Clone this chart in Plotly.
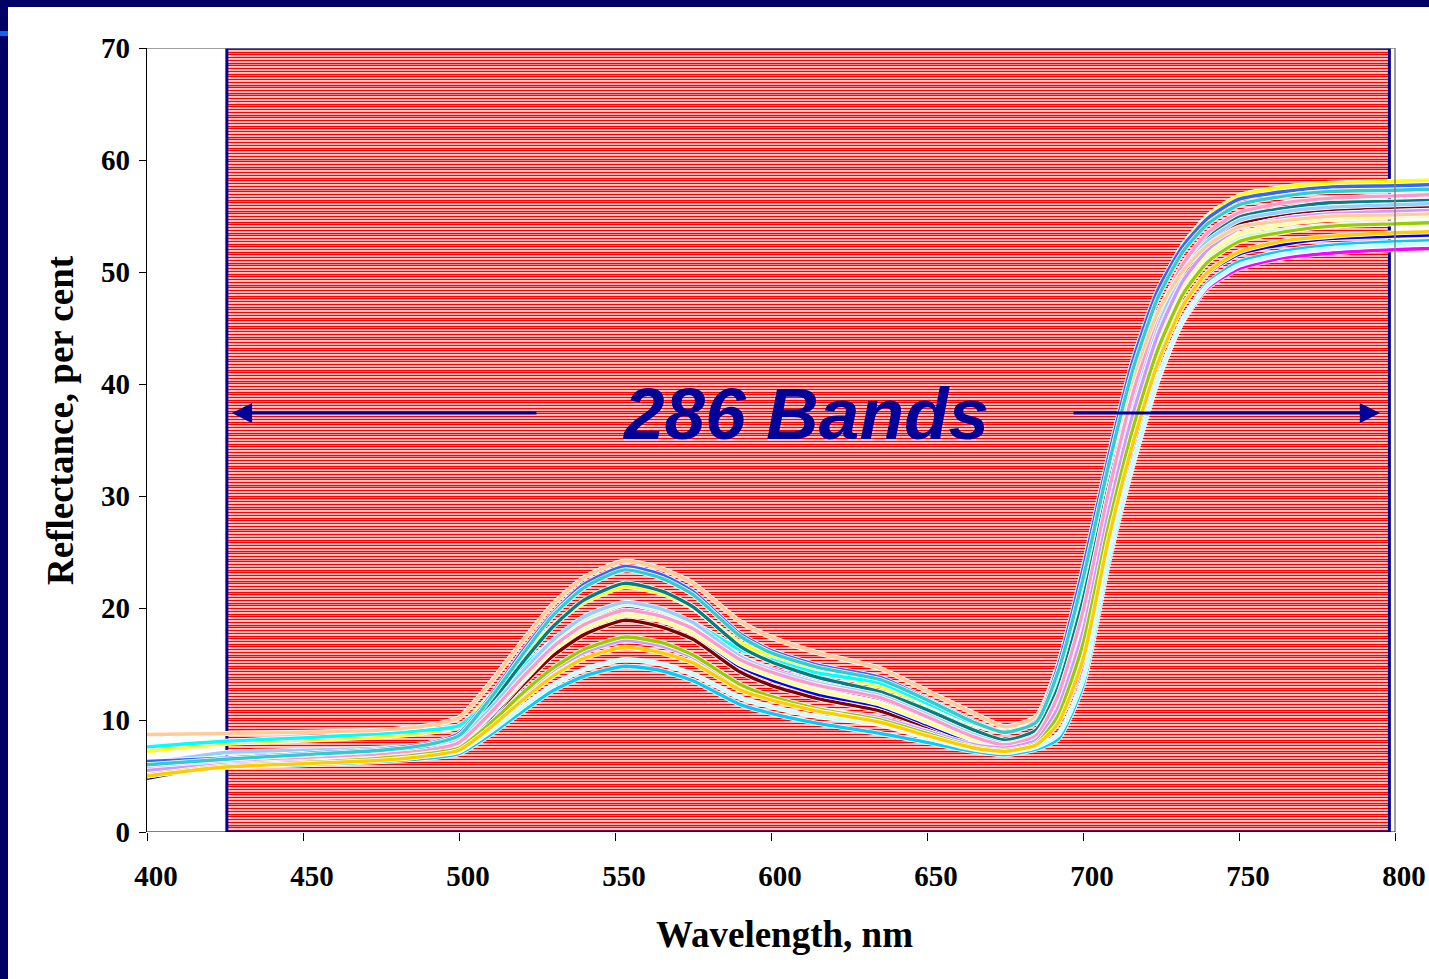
import plotly.graph_objects as go

# ---------------- data ----------------
wavelengths = [400, 425, 450, 475, 490, 500, 510, 520, 530, 540, 553, 565, 575, 590, 600, 615,
               635, 650, 665, 675, 685, 692, 700, 708, 716, 724, 732, 740, 750, 765, 780, 800, 812]

navy = [4.8, 6.0, 6.3, 6.6, 7.0, 7.6, 10.2, 13.4, 16.2, 18.3, 19.6, 19.0, 17.8, 14.9, 13.7, 12.4, 11.2, 9.6, 8.1, 7.6, 8.3, 11.2, 18.0, 28.4, 37.4, 44.5, 49.3, 52.1, 54.0, 54.9, 55.3, 55.5, 55.6]
magenta = [5.0, 6.0, 6.3, 6.7, 7.1, 7.8, 10.5, 13.7, 16.7, 18.7, 20.1, 19.55, 18.45, 15.7, 14.6, 13.4, 12.4, 10.7, 8.8, 7.9, 8.4, 9.8, 15.0, 25.1, 33.6, 40.6, 45.6, 48.6, 50.3, 51.3, 51.7, 52.0, 52.1]
yellow = [7.2, 7.9, 8.2, 8.5, 8.9, 9.4, 12.2, 15.4, 18.4, 20.5, 21.9, 21.3, 20.0, 16.9, 15.7, 14.3, 13.0, 11.4, 9.6, 8.9, 9.8, 14.2, 22.4, 32.6, 41.5, 48.2, 52.4, 55.0, 56.8, 57.6, 57.95, 58.1, 58.2]
turquoise = [7.6, 8.1, 8.4, 8.8, 9.1, 9.5, 11.8, 14.6, 17.1, 18.9, 20.1, 19.6, 18.7, 16.3, 15.4, 14.2, 13.3, 11.5, 9.7, 9.0, 9.8, 13.8, 21.4, 31.1, 39.6, 46.0, 50.1, 52.6, 54.3, 55.1, 55.5, 55.6, 55.7]
purple = [5.6, 6.1, 6.4, 6.7, 7.1, 7.8, 10.5, 13.7, 16.6, 18.7, 20.0, 19.4, 18.3, 15.4, 14.2, 13.0, 11.9, 10.2, 8.4, 7.7, 8.5, 11.8, 19.0, 29.3, 38.3, 45.2, 49.8, 52.6, 54.4, 55.3, 55.7, 55.9, 56.0]
dark_red = [5.8, 6.1, 6.3, 6.6, 7.0, 7.5, 10.0, 13.0, 15.7, 17.6, 18.9, 18.3, 17.2, 14.3, 13.1, 11.9, 10.8, 9.4, 8.0, 7.4, 8.2, 11.3, 18.3, 28.8, 37.8, 44.9, 49.6, 52.5, 54.3, 55.2, 55.6, 55.8, 55.9]
teal = [5.7, 6.3, 6.7, 7.1, 7.6, 8.3, 11.4, 15.0, 18.3, 20.7, 22.2, 21.5, 20.1, 16.6, 15.2, 13.8, 12.5, 10.9, 9.1, 8.2, 9.1, 12.9, 20.7, 30.7, 39.5, 46.2, 50.5, 53.2, 54.9, 55.7, 56.2, 56.3, 56.4]
blue = [5.4, 6.0, 6.3, 6.6, 7.0, 7.6, 10.2, 13.3, 16.2, 18.2, 19.5, 18.9, 17.7, 14.8, 13.6, 12.3, 11.2, 9.6, 8.0, 7.5, 8.1, 10.3, 16.3, 26.5, 35.1, 42.1, 47.0, 49.9, 51.6, 52.5, 53.0, 53.2, 53.3]
sky_blue = [5.3, 5.8, 6.0, 6.3, 6.6, 7.0, 8.7, 10.7, 12.6, 13.9, 14.8, 14.4, 13.5, 11.4, 10.6, 9.7, 8.8, 8.0, 7.2, 6.9, 7.4, 8.3, 13.1, 23.8, 32.8, 40.3, 45.8, 49.0, 50.9, 51.9, 52.4, 52.7, 52.8]
light_turquoise = [5.5, 6.0, 6.2, 6.5, 6.8, 7.2, 9.0, 11.1, 13.1, 14.5, 15.4, 15.0, 14.1, 12.0, 11.2, 10.3, 9.6, 8.4, 7.4, 7.1, 7.6, 8.7, 13.6, 24.2, 33.0, 40.4, 45.7, 48.8, 50.6, 51.6, 52.1, 52.4, 52.5]
light_green = [5.9, 6.2, 6.5, 6.8, 7.2, 7.9, 10.6, 13.9, 16.8, 18.9, 20.3, 19.7, 18.4, 15.3, 14.0, 12.7, 11.5, 9.9, 8.3, 7.7, 8.4, 11.6, 18.6, 28.6, 37.3, 44.0, 48.5, 51.2, 53.0, 53.8, 54.2, 54.4, 54.5]
light_yellow = [5.6, 6.1, 6.4, 6.8, 7.2, 7.9, 10.4, 13.4, 16.2, 18.1, 19.4, 18.85, 17.75, 15.0, 13.9, 12.6, 11.4, 9.8, 8.2, 7.6, 8.4, 11.4, 18.3, 28.5, 37.3, 44.2, 48.8, 51.6, 53.4, 54.3, 54.7, 54.9, 55.0]
pale_blue = [6.1, 7.1, 7.3, 7.5, 7.8, 8.3, 11.0, 14.2, 17.1, 19.2, 20.5, 19.9, 18.7, 15.7, 14.5, 13.3, 12.2, 10.5, 8.7, 7.9, 8.7, 12.2, 19.5, 29.8, 38.7, 45.5, 50.0, 52.8, 54.6, 55.4, 55.8, 56.0, 56.1]
rose = [5.7, 6.2, 6.5, 6.9, 7.3, 8.0, 10.6, 13.7, 16.5, 18.5, 19.8, 19.25, 18.15, 15.4, 14.3, 13.1, 12.0, 10.3, 8.5, 7.8, 8.6, 12.2, 19.7, 30.1, 39.2, 46.1, 50.7, 53.5, 55.3, 56.2, 56.6, 56.8, 56.9]
lavender = [5.5, 6.0, 6.3, 6.6, 7.0, 7.5, 9.6, 12.1, 14.4, 16.0, 17.1, 16.6, 15.6, 13.0, 12.0, 11.0, 10.2, 9.0, 7.8, 7.5, 8.2, 11.1, 17.9, 28.3, 37.3, 44.4, 49.2, 52.0, 53.9, 54.8, 55.2, 55.4, 55.5]
tan = [8.7, 8.8, 8.9, 9.1, 9.5, 10.2, 13.3, 16.9, 20.3, 22.7, 24.2, 23.5, 22.2, 18.8, 17.4, 16.0, 14.6, 12.6, 10.6, 9.4, 10.3, 14.9, 23.1, 32.3, 40.5, 46.4, 50.1, 52.4, 54.0, 54.6, 55.0, 55.1, 55.2]
light_blue = [6.3, 6.6, 7.0, 7.4, 7.9, 8.8, 12.1, 16.0, 19.5, 22.1, 23.7, 22.95, 21.45, 17.7, 16.2, 14.9, 13.8, 11.9, 9.9, 8.9, 9.9, 14.8, 23.5, 33.3, 42.1, 48.4, 52.3, 54.8, 56.5, 57.2, 57.6, 57.7, 57.8]
aqua = [6.0, 6.5, 6.9, 7.3, 7.8, 8.6, 11.9, 15.7, 19.3, 21.8, 23.4, 22.65, 21.2, 17.5, 16.0, 14.7, 13.6, 11.8, 9.8, 8.9, 9.8, 14.3, 22.6, 32.5, 41.3, 47.7, 51.8, 54.3, 56.0, 56.8, 57.2, 57.3, 57.4]
lime = [5.1, 5.9, 6.2, 6.6, 7.0, 7.5, 9.7, 12.3, 14.6, 16.3, 17.4, 16.9, 15.8, 13.2, 12.1, 11.0, 10.0, 8.8, 7.6, 7.3, 7.9, 10.4, 16.8, 27.1, 36.0, 43.1, 48.0, 50.9, 52.7, 53.6, 54.1, 54.3, 54.4]
gold = [5.0, 5.8, 6.1, 6.4, 6.8, 7.3, 9.3, 11.7, 13.9, 15.5, 16.5, 16.0, 15.1, 12.7, 11.8, 10.8, 9.8, 8.6, 7.5, 7.2, 7.8, 9.7, 15.4, 25.9, 34.7, 41.9, 47.0, 50.0, 51.8, 52.8, 53.2, 53.5, 53.6]

series = [navy, magenta, yellow, turquoise, purple, dark_red, teal, blue, sky_blue, light_turquoise,
          light_green, light_yellow, pale_blue, rose, lavender, tan, light_blue, aqua, lime, gold]
series_colors = ["#000080", "#FF00FF", "#FFFF00", "#00FFFF", "#800080", "#800000", "#008080", "#0000FF",
                 "#00CCFF", "#CCFFFF", "#CCFFCC", "#FFFF99", "#99CCFF", "#FF99CC", "#CC99FF", "#FFCC99",
                 "#3366FF", "#33CCCC", "#99CC00", "#FFCC00"]

x_ticks = [400, 450, 500, 550, 600, 650, 700, 750, 800]
y_ticks = [0, 10, 20, 30, 40, 50, 60, 70]
n_bands = 286
band_start, band_end = 425.6, 798.2
band_label = "286 Bands"
arrow_y = 37.4
left_arrow = (525.3, 427.2)    # tail, tip
right_arrow = (696.5, 795.2)   # tail, tip

# ---------------- figure ----------------
W, H, L, T, B = 1429, 979, 147, 48, 147
pw, ph = W - L, H - T - B
Y_MAX = 70

fig = go.Figure()

for vals, col in zip(series, series_colors):
    fig.add_trace(go.Scatter(x=wavelengths, y=vals, mode="lines",
                             line=dict(color="white", width=5.0, shape="spline", smoothing=0.6),
                             hoverinfo="skip", showlegend=False))
    fig.add_trace(go.Scatter(x=wavelengths, y=vals, mode="lines",
                             line=dict(color=col, width=3.4, shape="spline", smoothing=0.6),
                             showlegend=False))

shapes = []
# striped band area: one red line per band, snapped to pixel centres for crisp rendering
stripe_vals = []
for k in range(n_bands):
    row = int(ph * (k + 0.5) / n_bands) + 0.5
    stripe_vals.append(Y_MAX - row * Y_MAX / ph)
path = " ".join(f"M{band_start},{v:.5f} L{band_end},{v:.5f}" for v in stripe_vals)
shapes.append(dict(type="path", xref="x", yref="y", path=path, layer="below",
                   line=dict(color="#FF0000", width=1.4)))
shapes.append(dict(type="rect", xref="x", yref="y", x0=band_start, x1=band_end, y0=0, y1=Y_MAX,
                   layer="below", line=dict(color="#000099", width=3), fillcolor="rgba(0,0,0,0)"))
# plot-area borders
shapes.append(dict(type="line", xref="x", yref="y", x0=400, x1=800, y0=Y_MAX, y1=Y_MAX,
                   layer="below", line=dict(color="#808080", width=1.5)))
shapes.append(dict(type="line", xref="x", yref="y", x0=800, x1=800, y0=0, y1=Y_MAX,
                   layer="above", line=dict(color="#808080", width=1.5)))
shapes.append(dict(type="line", xref="x", yref="y", x0=400, x1=800, y0=0, y1=0,
                   layer="above", line=dict(color="black", width=1.2)))

# slide frame
def px(xp):
    return (xp - L) / pw
def py(yp):
    return (H - B - yp) / ph
shapes.append(dict(type="rect", xref="paper", yref="paper", x0=px(0), x1=px(W), y0=py(7), y1=py(0),
                   line=dict(width=0), fillcolor="#000066"))
shapes.append(dict(type="rect", xref="paper", yref="paper", x0=px(0), x1=px(8), y0=py(H), y1=py(0),
                   line=dict(width=0), fillcolor="#000066"))
shapes.append(dict(type="rect", xref="paper", yref="paper", x0=px(0), x1=px(8), y0=py(36), y1=py(31),
                   line=dict(width=0), fillcolor="#1464F0"))

annotations = [
    dict(x=610.9, y=arrow_y, xref="x", yref="y", text=f"<b><i>{band_label}</i></b>", showarrow=False,
         font=dict(family="Liberation Sans", size=73, color="#000099")),
    dict(x=left_arrow[1], y=arrow_y, ax=left_arrow[0], ay=arrow_y, xref="x", yref="y", axref="x", ayref="y",
         text="", showarrow=True, arrowhead=2, arrowsize=1.35, arrowwidth=3, arrowcolor="#000099"),
    dict(x=right_arrow[1], y=arrow_y, ax=right_arrow[0], ay=arrow_y, xref="x", yref="y", axref="x", ayref="y",
         text="", showarrow=True, arrowhead=2, arrowsize=1.35, arrowwidth=3, arrowcolor="#000099"),
    dict(x=px(784.5), y=py(934), xref="paper", yref="paper", text="<b>Wavelength, nm</b>", showarrow=False,
         font=dict(family="Liberation Serif", size=37, color="black"), xanchor="center", yanchor="middle"),
    dict(x=px(60), y=py(420), xref="paper", yref="paper", text="<b>Reflectance, per cent</b>", showarrow=False,
         textangle=-90, font=dict(family="Liberation Serif", size=37, color="black"),
         xanchor="center", yanchor="middle"),
]

tick_font = dict(family="Liberation Serif", size=29, color="black", weight="bold")
fig.update_layout(
    width=W, height=H,
    margin=dict(l=L, r=0, t=T, b=B, pad=0),
    paper_bgcolor="white", plot_bgcolor="white",
    showlegend=False,
    shapes=shapes, annotations=annotations,
    xaxis=dict(range=[400, 400 + pw / 3.12], tickvals=x_ticks, ticktext=[str(v) for v in x_ticks],
               showgrid=False, zeroline=False, showline=False, ticks="outside", ticklen=8,
               tickcolor="black", tickwidth=1.2, tickfont=tick_font, ticklabelstandoff=10,
               ticklabelshift=9),
    yaxis=dict(range=[0, Y_MAX], tickvals=y_ticks, showgrid=False, zeroline=False, showline=True,
               linecolor="black", linewidth=1.2, ticks="outside", ticklen=7, tickcolor="black",
               tickwidth=1.2, tickfont=tick_font, ticklabelstandoff=3),
)

fig.write_html("out.html", config={"displayModeBar": False},
               post_script="document.body.style.margin='0px';document.body.style.overflow='hidden';")
